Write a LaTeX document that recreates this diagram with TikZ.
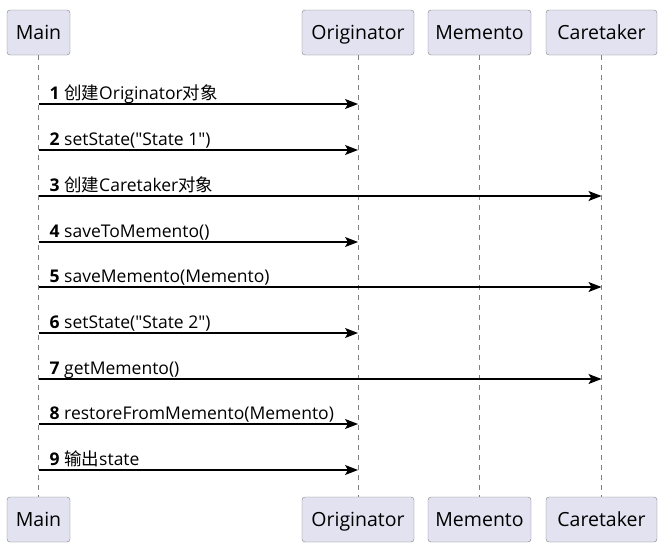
\documentclass[tikz,border=0pt]{standalone}
\usepackage{fontspec}
\setmainfont{Open Sans}[Ligatures = TeXOff]
\newfontfamily\cjk{Noto Sans CJK SC}
\usetikzlibrary{arrows.meta}
\definecolor{boxfill}{HTML}{E2E2F0}
\definecolor{boxline}{HTML}{808080}
\tikzset{
    actor/.style = {draw = boxline, fill = boxfill, rounded corners = 3pt, minimum height = 45pt, inner sep = 0pt, text height = 14pt, text depth = 0pt, font = \fontsize{19.5}{22}\selectfont},
    life/.style = {boxline, line width = 0.8pt, dash pattern = on 5pt off 5pt},
    msg/.style = {-{Stealth[length = 13pt, width = 10pt, inset = 3pt]}, line width = 1.1pt},
    msglabel/.style = {anchor = base west, inner sep = 0pt, xshift = 11pt, yshift = 5pt, font = \fontsize{17.5}{20}\selectfont},
}
\begin{document}
\begin{tikzpicture}[x = 1pt, y = -1pt]
    \useasboundingbox[fill = white] (0,0) rectangle (664,552);

    % participants, top and bottom
    \node[actor, minimum width = 63pt] (main-top) at (38.5,32.5) {Main};
    \node[actor, minimum width = 112pt] (orig-top) at (358,32.5) {Originator};
    \node[actor, minimum width = 103pt] (memo-top) at (479.5,32.5) {Memento};
    \node[actor, minimum width = 111pt] (care-top) at (601.5,32.5) {Caretaker};

    \node[actor, minimum width = 63pt] (main-bot) at (38.5,519.5) {Main};
    \node[actor, minimum width = 112pt] (orig-bot) at (358,519.5) {Originator};
    \node[actor, minimum width = 103pt] (memo-bot) at (479.5,519.5) {Memento};
    \node[actor, minimum width = 111pt] (care-bot) at (601.5,519.5) {Caretaker};

    % lifelines
    \foreach \p in {main, orig, memo, care}
        \draw[life] (\p-top.south) -- (\p-bot.north);

    % messages
    \foreach \n/\y/\dst/\txt in {
        1/104/orig/{{\cjk 创建}Originator{\cjk 对象}},
        2/150/orig/{setState("State 1")},
        3/196/care/{{\cjk 创建}Caretaker{\cjk 对象}},
        4/242/orig/saveToMemento(),
        5/287/care/saveMemento(Memento),
        6/333/orig/{setState("State 2")},
        7/379/care/getMemento(),
        8/424/orig/restoreFromMemento(Memento),
        9/470/orig/{{\cjk 输出}state}}
    {
        \coordinate (from-\n) at (main-top.south |- 0,\y);
        \coordinate (to-\n) at (\dst-top.south |- 0,\y);
        \draw[msg] (from-\n) -- (to-\n);
        \node[msglabel] (label-\n) at (from-\n) {\textbf{\n} \txt};
    }
\end{tikzpicture}
\end{document}
